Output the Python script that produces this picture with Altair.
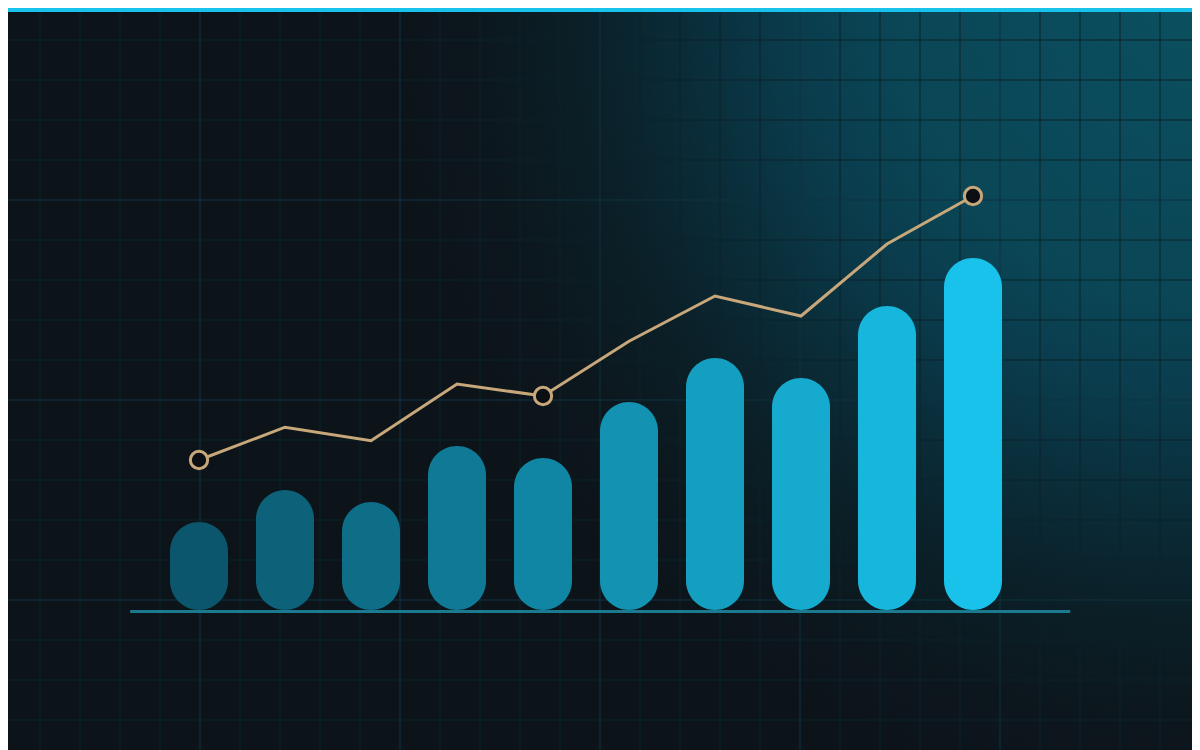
import altair as alt
import pandas as pd

# ---- data ----
periods = [1, 2, 3, 4, 5, 6, 7, 8, 9, 10]
bar_values = [22, 30, 27, 41, 38, 52, 63, 58, 76, 88]
line_values = [37.5, 45.7, 42.3, 56.5, 53.5, 67.2, 78.5, 73.5, 91.5, 103.5]
marked_periods = [1, 5, 10]
baseline_extent = [0.2, 11.13]

# ---- styling ----
W, H = 1184, 742
BG = "#0c141a"
TAN = "#c8a87a"
CYAN = "#18c2ea"

xscale = alt.Scale(domain=[1 - 191 / 86, 1 + (W - 191) / 86], nice=False, zero=False, padding=0)
yscale = alt.Scale(domain=[(602 - H) / 4, 602 / 4], nice=False, zero=False, padding=0)

df = pd.DataFrame({"period": periods, "bar": bar_values, "line": line_values})
df_pts = df[df["period"].isin(marked_periods)]
df_base = pd.DataFrame({"x": [baseline_extent[0]], "x2": [baseline_extent[1]], "y": [-0.4]})

# decorative background grid (pixel positions of a 40px lattice)
vx = [p - 8 for p in range(0, 1201, 40)]
hy = [p - 8 for p in range(0, 751, 40)]
grid_v = pd.DataFrame({"g": vx, "major": [(p + 8) % 200 == 0 for p in vx]})
grid_h = pd.DataFrame({"g": hy, "major": [(p + 8) % 200 == 0 for p in hy]})

SQ = 1192  # square box so the radial gradient stays circular
bg = alt.Chart(pd.DataFrame({"a": [0]})).mark_rect(
    clip=True,
    color={
        "gradient": "radial",
        "x1": 1.0, "y1": 0.371, "r1": 0,
        "x2": 1.0, "y2": 0.371, "r2": 0.67,
        "stops": [
            {"offset": 0.0, "color": "#0b4f5f"},
            {"offset": 0.38, "color": "#0a4656"},
            {"offset": 0.51, "color": "#0a3b4b"},
            {"offset": 0.64, "color": "#0a2c38"},
            {"offset": 0.77, "color": "#0b1f27"},
            {"offset": 0.9, "color": "#0c171d"},
            {"offset": 1.0, "color": "#0c141a"},
        ],
    },
).encode(x=alt.value(W - SQ), x2=alt.value(W), y=alt.value(H - SQ), y2=alt.value(H))

GRID_RANGE = ["#0b222b", "#0f3240"]
gv = alt.Chart(grid_v).mark_rule(strokeWidth=1).encode(
    x=alt.X("g:Q", scale=None, axis=None),
    y=alt.value(0), y2=alt.value(H),
    color=alt.Color("major:N", scale=alt.Scale(domain=[False, True], range=GRID_RANGE), legend=None),
)
gh = alt.Chart(grid_h).mark_rule(strokeWidth=1).encode(
    y=alt.Y("g:Q", scale=None, axis=None),
    x=alt.value(0), x2=alt.value(W),
    color=alt.Color("major:N", scale=alt.Scale(domain=[False, True], range=GRID_RANGE), legend=None),
)

base = alt.Chart(df_base).mark_rule(color="#1b7a90", strokeWidth=3).encode(
    x=alt.X("x:Q", scale=xscale, axis=None),
    x2="x2:Q",
    y=alt.Y("y:Q", scale=yscale, axis=None),
)

bars = alt.Chart(df).mark_bar(width=58, cornerRadius=29).encode(
    x=alt.X("period:Q", scale=xscale, axis=None),
    y=alt.Y("bar:Q", scale=yscale, axis=None),
    color=alt.Color("period:Q", scale=alt.Scale(domain=[1, 10], range=["#0b566c", "#19c2ea"], interpolate="rgb"), legend=None),
)

line = alt.Chart(df).mark_line(color=TAN, strokeWidth=3).encode(
    x=alt.X("period:Q", scale=xscale, axis=None),
    y=alt.Y("line:Q", scale=yscale, axis=None),
)

pts = alt.Chart(df_pts).mark_point(
    shape="circle", filled=False, fill="#0b0f13", fillOpacity=1, stroke=TAN, strokeWidth=3, size=300, opacity=1
).encode(
    x=alt.X("period:Q", scale=xscale, axis=None),
    y=alt.Y("line:Q", scale=yscale, axis=None),
)

top = alt.Chart(pd.DataFrame({"a": [0]})).mark_rule(color=CYAN, strokeWidth=4).encode(
    x=alt.value(0), x2=alt.value(W), y=alt.value(2)
)

chart = (
    alt.layer(bg, gv, gh, base, bars, line, pts, top)
    .resolve_scale(x="independent", y="independent", color="independent")
    .properties(width=W, height=H, padding=0, background=BG, autosize=alt.AutoSizeParams(type="none"))
    .configure_view(stroke=None)
)

chart.save("out.html", embed_options={"renderer": "svg", "actions": False})
